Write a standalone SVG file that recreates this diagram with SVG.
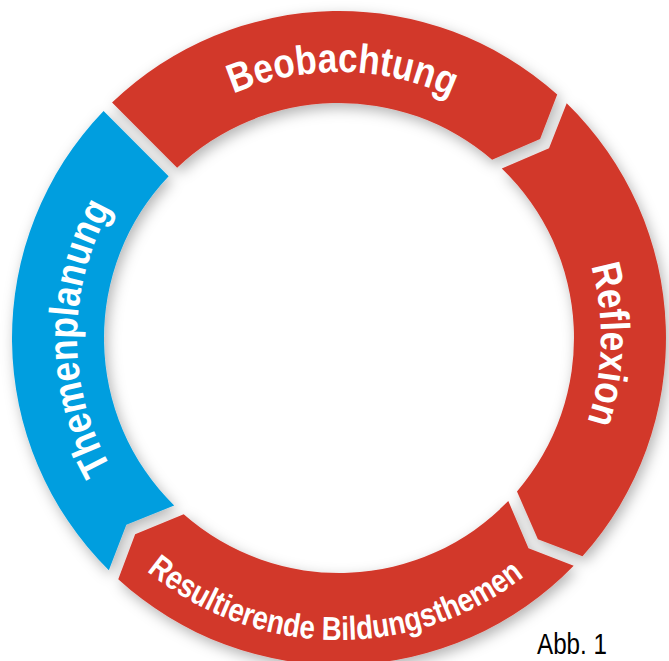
<svg xmlns="http://www.w3.org/2000/svg" width="669" height="661" viewBox="0 0 669 661">
<style>
.red{fill:#D2372B}
.blue{fill:#039EDF}
.lbl{font-family:"Liberation Sans Narrow","Liberation Sans",Arial,sans-serif;font-weight:bold;fill:#fff}
.cap{font-family:"Liberation Sans Narrow","Liberation Sans",Arial,sans-serif;fill:#000}
</style>
<defs>
<filter id="sh" x="-10%" y="-10%" width="120%" height="120%">
<feDropShadow dx="3" dy="5" stdDeviation="7" flood-color="#000" flood-opacity="0.3"/>
</filter>
<path id="pBeob" d="M110.41,201.98 A266,266 0 0 1 571.09,208.03"/>
<path id="pRefl" d="M475.31,114.25 A262,262 0 0 1 464.62,567.92"/>
<path id="pThem" d="M208,564.9 A262,262 0 0 1 208,111.1"/>
<path id="pRes" d="M75.25,485.13 A302,302 0 0 0 598.27,492.87"/>
</defs>
<rect width="669" height="661" fill="#fff"/>
<g id="ring" filter="url(#sh)">
<g id="beobachtung">
<path class="red" d="M112.06,102.58 A327,327 0 0 1 557.2,94.5 L540.1,138.9 L492.1,159.7 A235,235 0 0 0 177.13,167.65 Z"/>
</g>
<g id="reflexion">
<path class="red" d="M566.7,103.3 A327,327 0 0 1 582.5,556.2 L537.9,539.3 L517.0,491.4 A235,235 0 0 0 501.8,168.5 L549.0,148.3 Z"/>
</g>
<g id="resultierende">
<path class="red" d="M573.7,565.7 A327,327 0 0 1 118.25,579.24 L135.14,534.29 L183.7,514.37 A235,235 0 0 0 508.3,501.0 L528.5,548.2 Z"/>
</g>
<g id="themenplanung">
<path class="blue" d="M108.83,570.27 A327,327 0 0 1 103.58,111.06 L168.65,176.13 A235,235 0 0 0 174.18,505.52 L126.34,524.72 Z"/>
</g>
</g>
<g id="labels">
<text class="lbl" font-size="41"><textPath href="#pBeob" startOffset="50%" text-anchor="middle" textLength="224" lengthAdjust="spacingAndGlyphs">Beobachtung</textPath></text>
<text class="lbl" font-size="41"><textPath href="#pRefl" startOffset="50%" text-anchor="middle" textLength="158" lengthAdjust="spacingAndGlyphs">Reflexion</textPath></text>
<text class="lbl" font-size="41"><textPath href="#pThem" startOffset="50%" text-anchor="middle" textLength="272" lengthAdjust="spacingAndGlyphs">Themenplanung</textPath></text>
<text class="lbl" font-size="33"><textPath href="#pRes" startOffset="50%" text-anchor="middle" textLength="408" lengthAdjust="spacingAndGlyphs">Resultierende Bildungsthemen</textPath></text>
</g>
<text id="abb" class="cap" x="537" y="654" font-size="30" textLength="70" lengthAdjust="spacingAndGlyphs">Abb. 1</text>
</svg>
